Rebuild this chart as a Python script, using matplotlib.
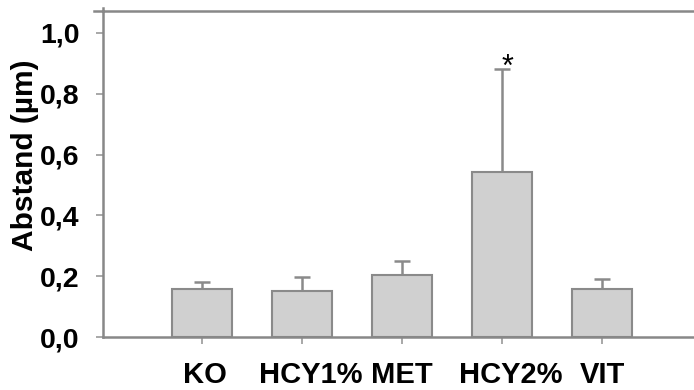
import matplotlib
matplotlib.use("Agg")
import matplotlib.pyplot as plt
from matplotlib.transforms import ScaledTranslation
from matplotlib.lines import Line2D

categories = ["KO", "HCY1%", "MET", "HCY2%", "VIT"]
means = [0.157, 0.151, 0.204, 0.542, 0.159]
errors = [0.025, 0.046, 0.045, 0.339, 0.031]
yticks = [0.0, 0.2, 0.4, 0.6, 0.8, 1.0]
ytick_labels = ["0,0", "0,2", "0,4", "0,6", "0,8", "1,0"]
star_index = 3

plt.rcParams['font.family'] = ['Liberation Sans', 'DejaVu Sans']

W, H = 694, 390
fig = plt.figure(figsize=(W/100, H/100), dpi=100)
ax = fig.add_axes([103/W, (H-337)/H, (W-103)/W, (337-11)/H])

x = list(range(len(categories)))
edge = "#8a8a8a"
ax.bar(x, means, width=0.6, color="#d0d0d0", edgecolor=edge, linewidth=1.5, zorder=2)
ax.errorbar(x, means, yerr=[[0]*len(errors), errors], fmt="none", ecolor=edge,
            elinewidth=1.8, capsize=6, capthick=1.8, zorder=1)
ax.text(star_index + 0.06, means[star_index] + errors[star_index] - 0.047, "*",
        ha="center", va="bottom", fontsize=22)

ax.set_xlim(-0.99, 4.92)
ax.set_ylim(0, 1.072)
ax.set_yticks(yticks)
ax.set_yticklabels(ytick_labels, fontsize=20.5, fontweight="bold")
ax.set_xticks(x)
ax.set_xticklabels(categories, fontsize=21, fontweight="bold")
ax.tick_params(axis="y", direction="out", length=5, width=1.2, color="#9a9a9a", pad=12)
ax.tick_params(axis="x", direction="out", length=5, width=1.2, color="#9a9a9a", pad=12)
ax.set_ylabel("Abstand (µm)", fontsize=21.5, fontweight="bold")
ax.yaxis.set_label_coords(-0.108, 0.558)

# slight horizontal offsets of category labels as in the reference
offsets_px = [3, 9, 0, 9, 0]
for lab, dx in zip(ax.get_xticklabels(), offsets_px):
    lab.set_transform(lab.get_transform() + ScaledTranslation(dx/100, 0, fig.dpi_scale_trans))

for s in ["left", "bottom", "top"]:
    ax.spines[s].set_color("#888888")
    ax.spines[s].set_linewidth(1.8)
ax.spines["right"].set_visible(False)

# small overhangs of the frame lines at top-left
fig.add_artist(Line2D([94/W, 103/W], [(H-11)/H, (H-11)/H], color="#888888", lw=1.8))
fig.add_artist(Line2D([103/W, 103/W], [(H-11)/H, (H-8)/H], color="#888888", lw=1.8))

fig.savefig("out.png", dpi=100)
